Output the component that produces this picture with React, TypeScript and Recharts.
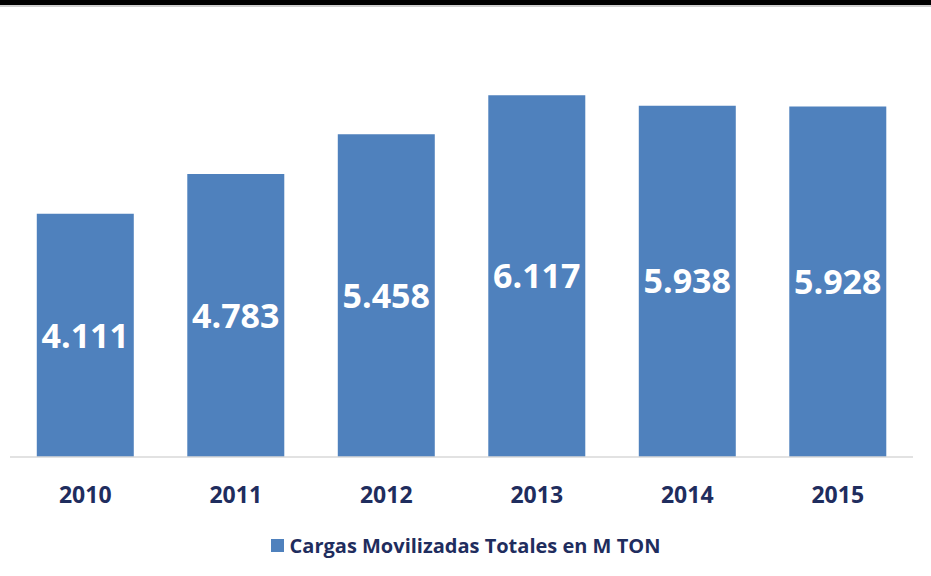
import React from 'react';
import { BarChart, Bar, XAxis, YAxis, LabelList } from 'recharts';

const years = ['2010', '2011', '2012', '2013', '2014', '2015'];
const cargas = [4.111, 4.783, 5.458, 6.117, 5.938, 5.928];
const seriesName = 'Cargas Movilizadas Totales en M TON';

const data = years.map((y, i) => ({ year: y, value: cargas[i] }));

const BAR = '#4F81BD';
const NAVY = '#1F2D5E';
const FONT = '"Open Sans", "Noto Sans", sans-serif';

const Tick = (props: any) => {
  const { x, y, payload } = props;
  return (
    <text x={x} y={y + 29} textAnchor="middle" dominantBaseline="central" fill={NAVY}
      fontFamily={FONT} fontWeight={700} fontSize={23}>
      {payload.value}
    </text>
  );
};

export default function App() {
  return (
    <div style={{ position: 'absolute', left: 0, top: 0, width: 931, height: 576, background: '#fff' }}>
      <div style={{ position: 'absolute', left: 0, top: 0, width: 931, height: 5, background: '#000' }} />
      <div style={{ position: 'absolute', left: 0, top: 5, width: 931, height: 2, background: '#d0d0d0' }} />
      <BarChart width={931} height={576} data={data}
        margin={{ top: 43, right: 18, bottom: 59, left: 10 }} barCategoryGap="17.8%">
        <XAxis dataKey="year" axisLine={{ stroke: '#D9D9D9', strokeWidth: 1.5 }} tickLine={false} tick={<Tick />} height={60} />
        <YAxis hide domain={[0, 7]} />
        <Bar dataKey="value" name={seriesName} fill={BAR} isAnimationActive={false}>
          <LabelList dataKey="value" position="center" fill="#fff" fontFamily={FONT} fontWeight={700}
            fontSize={34} formatter={(v: any) => Number(v).toFixed(3)} />
        </Bar>
      </BarChart>
      <div style={{ position: 'absolute', left: 0, top: 531, width: 931, height: 28, display: 'flex',
        justifyContent: 'center', alignItems: 'center', fontFamily: FONT }}>
        <span style={{ width: 13, height: 13, background: BAR, display: 'inline-block', marginRight: 6 }} />
        <span style={{ color: NAVY, fontWeight: 700, fontSize: 20 }}>{seriesName}</span>
      </div>
    </div>
  );
}
